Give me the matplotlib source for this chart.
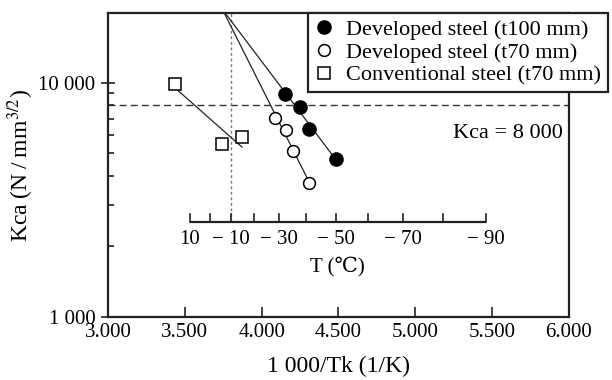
import matplotlib
matplotlib.use("Agg")
import matplotlib.pyplot as plt
import matplotlib.transforms as mtransforms
from matplotlib.ticker import LogLocator, NullFormatter, FixedLocator
import numpy as np

plt.rcParams['font.family'] = ['Liberation Serif', 'DejaVu Serif', 'Noto Sans CJK JP']
plt.rcParams['mathtext.fontset'] = 'stix'

# data (x = 1000/Tk, y = Kca)
dev100_x = [4.152, 4.249, 4.308, 4.483]
dev100_y = [8970, 7890, 6350, 4720]
dev70_x = [4.087, 4.158, 4.204, 4.308]
dev70_y = [7080, 6285, 5105, 3725]
conv_x = [3.436, 3.742, 3.872]
conv_y = [9900, 5470, 5865]

kca_limit = 8000
t_ref = -10                      # degC, vertical reference line
t_ticks = [10, 0, -10, -20, -30, -40, -50, -60, -70, -80, -90]
t_labels = [10, -10, -30, -50, -70, -90]
x_ticks = [3.0, 3.5, 4.0, 4.5, 5.0, 5.5, 6.0]
x_ticklabels = ['3.000', '3.500', '4.000', '4.500', '5.000', '5.500', '6.000']


def inv_t(t):
    return 1000.0 / (t + 273.15)


fig = plt.figure(figsize=(6.12, 3.8), dpi=100)
ax = fig.add_axes([0.1765, 0.1658, 0.7532, 0.8])
ax.set_yscale('log')
ax.set_xlim(3.0, 6.0)
ax.set_ylim(1000, 19800)

fs = 15
ax.set_xticks(x_ticks)
ax.set_xticklabels(x_ticklabels, fontsize=fs)
ax.yaxis.set_major_locator(FixedLocator([1000, 10000]))
ax.set_yticklabels(['1 000', '10 000'], fontsize=fs)
ax.yaxis.set_minor_locator(LogLocator(base=10, subs=np.arange(2, 10)))
ax.yaxis.set_minor_formatter(NullFormatter())
ax.tick_params(which='both', direction='in', width=1.2, color='#222')
ax.tick_params(which='major', length=7, pad=4)
ax.tick_params(which='minor', length=4)
ax.tick_params(axis='y', which='major', direction='inout', length=10)
for s in ax.spines.values():
    s.set_linewidth(1.6)
    s.set_color('#222')

ax.set_xlabel('1 000/Tk (1/K)', fontsize=17, labelpad=10)
ax.set_ylabel('Kca (N\u2009/\u2009mm$^{3/2}$)', fontsize=17, labelpad=2)

# fitted lines (log-linear), from the plot top to the last point
ytop = ax.get_ylim()[1]
for xs, ys in [(dev100_x, dev100_y), (dev70_x, dev70_y)]:
    k, c = np.polyfit(xs, np.log10(ys), 1)
    x0 = (np.log10(ytop) - c) / k
    xx = np.array([x0, max(xs)])
    ax.plot(xx, 10 ** (k * xx + c), color='#222', lw=0.9, zorder=2)
k, c = np.polyfit(conv_x, np.log10(conv_y), 1)
xx = np.array([min(conv_x), max(conv_x)])
ax.plot(xx, 10 ** (k * xx + c), color='#222', lw=0.9, zorder=2)

ax.plot(dev100_x, dev100_y, 'o', ms=9.5, mfc='black', mec='black',
        label='Developed steel (t100 mm)', zorder=4)
ax.plot(dev70_x, dev70_y, 'o', ms=8.5, mfc='white', mec='black', mew=1.1,
        label='Developed steel (t70 mm)', zorder=4)
ax.plot(conv_x, conv_y, 's', ms=9, mfc='white', mec='black', mew=1.1,
        label='Conventional steel (t70 mm)', zorder=4)

# reference lines
ax.axhline(kca_limit, color='#333', lw=1.0, dashes=(5, 3), zorder=1)
t_axis_y = 0.3125
ax.axvline(inv_t(t_ref), ymin=t_axis_y, ymax=1, color='#777', lw=1.0,
           dashes=(2, 2), zorder=1)
ax.text(5.96, kca_limit * 0.76, 'Kca = 8 000', fontsize=16, ha='right',
        va='center')

# temperature axis inside the plot
trans = mtransforms.blended_transform_factory(ax.transData, ax.transAxes)
ax.plot([inv_t(t_ticks[0]), inv_t(t_ticks[-1])], [t_axis_y, t_axis_y],
        color='#222', lw=1.6, transform=trans, solid_capstyle='butt')
for t in t_ticks:
    ax.plot([inv_t(t), inv_t(t)], [t_axis_y, t_axis_y + 0.027],
            color='#222', lw=1.2, transform=trans)
for t in t_labels:
    lab = str(t) if t > 0 else '\u2212 ' + str(-t)
    ax.text(inv_t(t), t_axis_y - 0.025, lab, fontsize=fs, ha='center',
            va='top', transform=trans)
ax.text((inv_t(t_ticks[0]) + inv_t(t_ticks[-1])) / 2, t_axis_y - 0.115,
        'T (\u2103)', fontsize=fs, ha='center', va='top', transform=trans)

leg = ax.legend(loc='upper left', bbox_to_anchor=(0.434, 1.0), fontsize=16,
                frameon=True, fancybox=False, framealpha=1, edgecolor='#222',
                handlelength=0.8, handletextpad=0.6, borderpad=0.3,
                labelspacing=0.1, borderaxespad=0)
leg.get_frame().set_linewidth(1.6)
leg.set_zorder(10)

fig.savefig('out.png', dpi=100)
